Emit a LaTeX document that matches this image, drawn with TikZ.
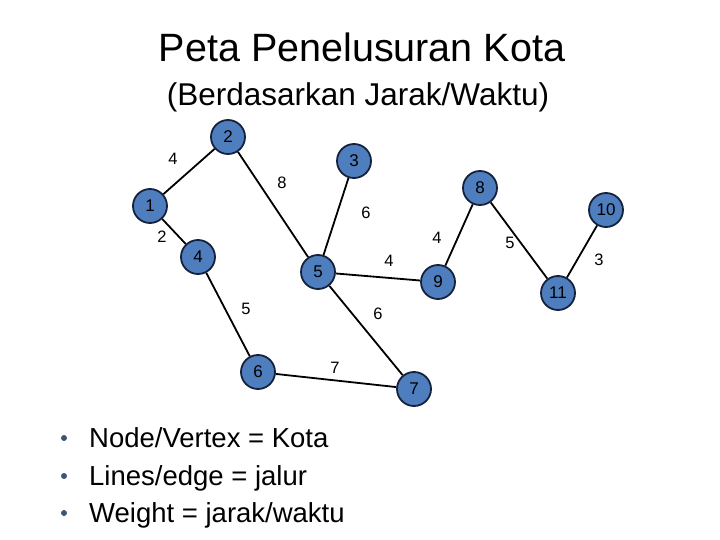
\documentclass[tikz,border=0pt]{standalone}
\usepackage{fontspec}
\setmainfont{Liberation Sans}
\definecolor{nodefill}{HTML}{4F7EBF}
\definecolor{nodeedge}{HTML}{15223D}
\definecolor{bulletc}{HTML}{3E5476}
\begin{document}
\begin{tikzpicture}[x=1pt,y=-1pt,
  city/.style={circle,draw=nodeedge,fill=nodefill,line width=1.8pt,minimum size=34pt,inner sep=0pt,font=\fontsize{17}{17}\selectfont},
  road/.style={line width=1.8pt,black},
  wt/.style={font=\fontsize{16.5}{16.5}\selectfont,inner sep=0pt},
  bul/.style={anchor=base west,font=\fontsize{27.5}{30}\selectfont,inner sep=0pt},
  dot/.style={circle,fill=bulletc,inner sep=0pt,minimum size=6pt}]
\useasboundingbox (0,0) rectangle (720,540);
\node[anchor=base,font=\fontsize{39.5}{42}\selectfont,inner sep=0pt] (title) at (362,62) {Peta Penelusuran Kota};
\node[anchor=base,font=\fontsize{31.5}{34}\selectfont,inner sep=0pt] (sub) at (358,106) {(Berdasarkan Jarak/Waktu)};
% nodes
\node[city] (n1) at (150,206) {1};
\node[city] (n2) at (228,137) {2};
\node[city] (n3) at (354,161) {3};
\node[city] (n4) at (198,257) {4};
\node[city] (n5) at (318,272) {5};
\node[city] (n6) at (258,372) {6};
\node[city] (n7) at (414,389) {7};
\node[city] (n8) at (480,188) {8};
\node[city] (n9) at (438,282) {9};
\node[city] (n10) at (606,210) {10};
\node[city] (n11) at (558,293) {11};
% edges
\draw[road] (n1) -- (n2);
\draw[road] (n1) -- (n4);
\draw[road] (n2) -- (n5);
\draw[road] (n3) -- (n5);
\draw[road] (n5) -- (n9);
\draw[road] (n4) -- (n6);
\draw[road] (n5) -- (n7);
\draw[road] (n6) -- (n7);
\draw[road] (n9) -- (n8);
\draw[road] (n8) -- (n11);
\draw[road] (n11) -- (n10);
% weights
\node[wt] (w12) at (173,159) {4};
\node[wt] (w14) at (162,237) {2};
\node[wt] (w25) at (282,183) {8};
\node[wt] (w35) at (366,213) {6};
\node[wt] (w59) at (389,261) {4};
\node[wt] (w46) at (246,309) {5};
\node[wt] (w57) at (378,314) {6};
\node[wt] (w67) at (335,368) {7};
\node[wt] (w98) at (437,238) {4};
\node[wt] (w811) at (510,243) {5};
\node[wt] (w1011) at (599,260) {3};
% bullets
\node[dot] (d1) at (64,438) {};
\node[dot] (d2) at (64,476) {};
\node[dot] (d3) at (64,513) {};
\node[bul] (b1) at (89,447) {Node/Vertex = Kota};
\node[bul] (b2) at (89,485) {Lines/edge = jalur};
\node[bul] (b3) at (89,522) {Weight = jarak/waktu};
\end{tikzpicture}
\end{document}
